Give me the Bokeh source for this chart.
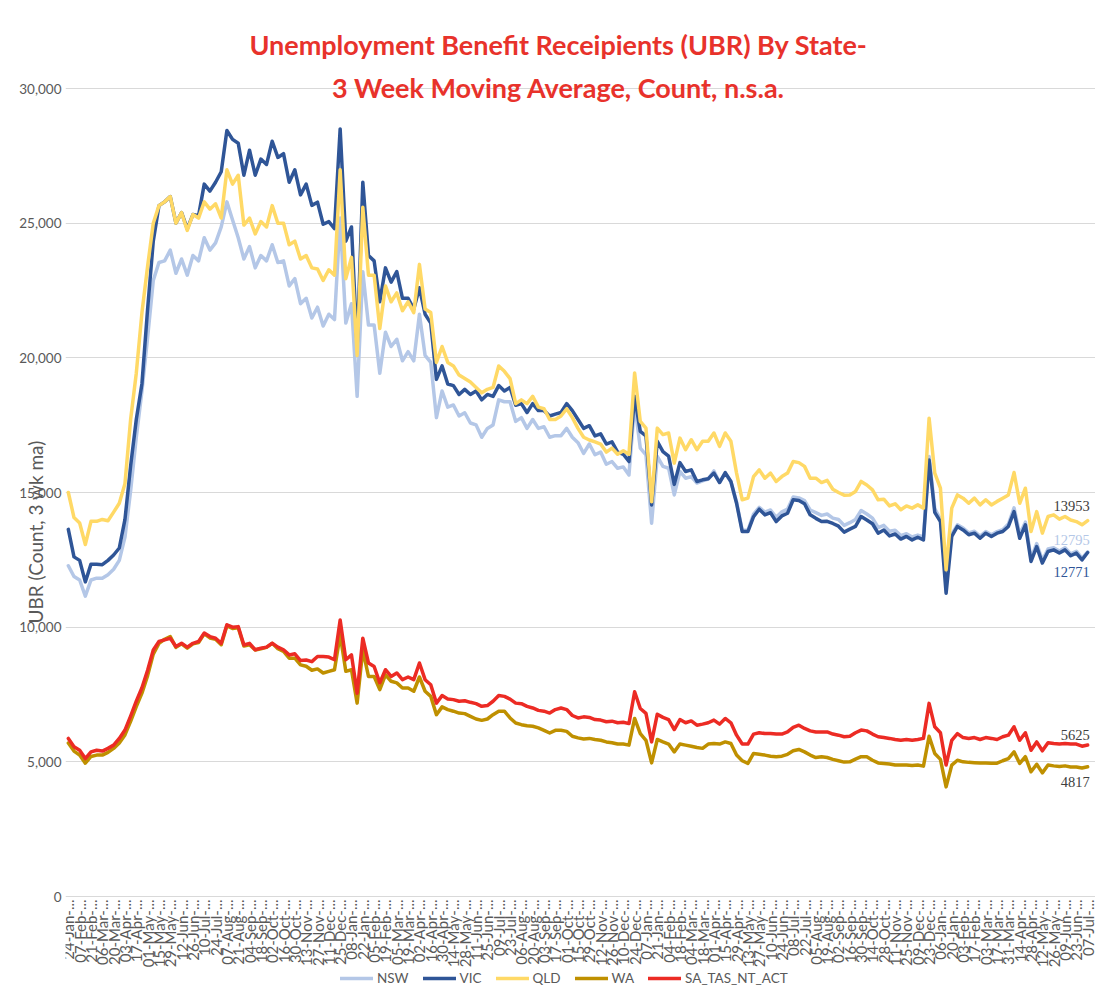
from math import pi

import pandas as pd
from bokeh.plotting import figure
from bokeh.core.properties import value
from bokeh.models import (Range1d, FixedTicker, NumeralTickFormatter, Label, LabelSet,
                          ColumnDataSource, Legend, LegendItem, Title)
from bokeh.embed import file_html
from bokeh.resources import INLINE

# Weekly observations, 24-Jan-2020 to 07-Jul-2023
weeks = pd.date_range("2020-01-24", "2023-07-07", freq="7D")
tick_labels = [f"{d:%d-%b}-..." for d in weeks[::2]]

title_lines = ["Unemployment Benefit Receipients (UBR) By State-",
               "3 Week Moving Average, Count, n.s.a."]
y_title = "UBR (Count, 3 wk ma)"
y_ticks = [0, 5000, 10000, 15000, 20000, 25000, 30000]

series_names = ["NSW", "VIC", "QLD", "WA", "SA_TAS_NT_ACT"]
series_colors = ["#b4c7e7", "#2f5597", "#ffd966", "#bf9000", "#ec2b24"]

nsw = [
    12280, 11880, 11750, 11150, 11750, 11820, 11820, 11950, 12150, 12480,
    13340, 15060, 17050, 18770, 20750, 22870,
    23540, 23600, 24000, 23140, 23670, 23070, 23800, 23600, 24460, 24000,
    24270, 24860, 25790, 25120, 24460, 23670, 24130, 23340, 23800, 23600,
    24200, 23540, 23600, 22670, 22940, 22010, 22210, 21480, 21880, 21180,
    21620, 21420, 25190, 21290, 22010, 18570, 23200, 21220, 21220, 19430,
    20950, 20420, 20690, 19890, 20230, 19890, 21620, 20090, 19830, 17780,
    18770, 18170, 18250, 17840, 17960, 17580, 17510, 17050, 17380, 17510,
    18440, 18370, 18370, 17640, 17780, 17380, 17710, 17380, 17440, 17050,
    17110, 17110, 17380, 17050, 16850, 16450,
    16800, 16400, 16500, 16050, 16150, 15900, 15950, 15650, 18300, 16650,
    16400, 13860, 16340, 15970, 15900, 14910, 15780, 15530, 15590, 15350,
    15430, 15500, 15800, 15380, 15700, 15400, 14650, 13600, 13600, 14200,
    14450, 14270, 14350, 14080, 14280, 14380, 14830, 14800, 14700, 14350,
    14250, 14150, 14200, 14050, 14000, 13780,
    13880, 14000, 14330, 14200, 14050, 13700, 13780, 13560, 13600, 13400,
    13470, 13350, 13420, 13350, 16340, 14400, 14000, 12000, 13450, 13800,
    13680, 13500, 13560, 13380, 13550, 13430, 13550, 13620, 13830, 14430,
    13450, 13900, 12550, 13100, 12480, 12900, 12950, 12830, 12950, 12720,
    12820, 12560, 12795,
]

vic = [
    13630, 12610, 12480, 11680, 12340, 12340, 12320, 12480, 12680, 12940,
    14000, 15990, 17710, 19040, 21820, 24330,
    25650, 25790, 25990, 25000, 25390, 24790, 25320, 25280, 26450, 26190,
    26520, 26910, 28440, 28110, 27970, 26780, 27710, 26780, 27380, 27180,
    28040, 27440, 27580, 26520, 26980, 26050, 26450, 25660, 25780, 24960,
    25060, 24800, 28500, 24330, 24860, 20400, 26520, 23800, 23600, 22080,
    23340, 22810, 23200, 22210, 22210, 21810, 22600, 21620, 21290, 19200,
    19700, 19030, 18970, 18640, 18830, 18640, 18770, 18440, 18640, 18570,
    18970, 18770, 18900, 18240, 18300, 17970, 18300, 18040, 18040, 17840,
    17910, 17970, 18300, 18040, 17710, 17380,
    17480, 17100, 17180, 16800, 16880, 16500, 16420, 16150, 18570, 17270,
    17100, 14540, 16900, 16520, 16350, 15300, 16110, 15780, 15840, 15410,
    15470, 15510, 15720, 15370, 15740, 15410, 14600, 13550, 13550, 14100,
    14380, 14170, 14250, 13920, 14130, 14230, 14730, 14700, 14580, 14170,
    14040, 13920, 13930, 13850, 13750, 13530,
    13640, 13740, 14110, 13980, 13840, 13490, 13610, 13390, 13460, 13270,
    13370, 13240, 13340, 13240, 16210, 14260, 13920, 11260, 13370, 13740,
    13610, 13430, 13490, 13300, 13490, 13370, 13490, 13550, 13740, 14290,
    13300, 13800, 12440, 12990, 12380, 12810, 12870, 12750, 12870, 12650,
    12750, 12500, 12771,
]

qld = [
    15000, 14070, 13870, 13070, 13930, 13930, 14000, 13950, 14270, 14600,
    15330, 17710, 19430, 21680, 23400, 25000,
    25650, 25790, 25990, 25000, 25390, 24730, 25320, 25190, 25790, 25520,
    25720, 25190, 26980, 26450, 26780, 24930, 25190, 24600, 25060, 24860,
    25650, 25000, 25000, 24200, 24330, 23670, 23800, 23340, 23300, 22870,
    23270, 23070, 26980, 22940, 23730, 20090, 25590, 23070, 23070, 21090,
    22670, 22080, 22410, 21750, 22080, 21680, 23470, 21810, 21680, 19830,
    20420, 19830, 19700, 19360, 19230, 19100, 18900, 18700, 18830, 18900,
    19700, 19500, 19230, 18300, 18440, 18300, 18570, 18170, 18110, 17710,
    17710, 17840, 18110, 17780, 17380, 17050,
    16950, 16880, 16800, 16500, 16650, 16420, 16550, 16420, 19440, 17640,
    17390, 14660, 17390, 17150, 17210, 16090, 17020, 16590, 16960, 16590,
    16900, 16900, 17210, 16710, 17210, 16900, 15720, 14730, 14790, 15590,
    15840, 15530, 15720, 15410, 15590, 15720, 16150, 16110, 15970, 15530,
    15530, 15370, 15450, 15120, 15000, 14900,
    14910, 15040, 15410, 15280, 15100, 14730, 14750, 14500, 14580, 14360,
    14500, 14420, 14540, 14420, 17760, 15720, 15160, 12130, 14420, 14910,
    14790, 14600, 14790, 14540, 14730, 14540, 14670, 14790, 14910, 15740,
    14600, 15160, 13550, 14290, 13490, 14110, 14170, 14010, 14110, 13980,
    13920, 13800, 13953,
]

wa = [
    5700, 5400, 5250, 4950, 5200, 5250, 5250, 5350, 5500, 5700,
    6000, 6500, 7050, 7550, 8200, 9000,
    9400, 9550, 9650, 9250, 9380, 9220, 9380, 9430, 9750, 9600,
    9550, 9350, 10050, 9950, 9980, 9300, 9350, 9150, 9200, 9250,
    9400, 9200, 9100, 8850, 8850, 8600, 8550, 8400, 8450, 8300,
    8360, 8420, 9720, 8360, 8420, 7180, 9160, 8170, 8170, 7680,
    8230, 7990, 7930, 7740, 7740, 7620, 8150, 7620, 7430, 6750,
    7040, 6940, 6880, 6810, 6790, 6690, 6590, 6540, 6590, 6750,
    6880, 6880, 6630, 6440, 6380, 6340, 6320, 6260, 6170, 6070,
    6170, 6170, 6130, 5950, 5890, 5850,
    5870, 5830, 5800, 5740, 5710, 5660, 5660, 5620, 6610, 6050,
    5800, 4960, 5830, 5740, 5660, 5370, 5660, 5620, 5580, 5530,
    5500, 5660, 5680, 5660, 5740, 5680, 5250, 5040, 4940, 5310,
    5280, 5250, 5210, 5190, 5210, 5280, 5410, 5460, 5370, 5250,
    5160, 5190, 5160, 5090, 5040, 4990,
    5000, 5100, 5190, 5190, 5060, 4960, 4940, 4920, 4880, 4880,
    4880, 4860, 4880, 4840, 5950, 5310, 5090, 4070, 4880, 5060,
    5000, 4980, 4970, 4960, 4960, 4950, 4950, 5040, 5120, 5370,
    4940, 5190, 4630, 4910, 4590, 4880, 4850, 4830, 4850, 4810,
    4810, 4770, 4817,
]

sa_tas_nt_act = [
    5870, 5560, 5430, 5120, 5370, 5430, 5400, 5500, 5620, 5870,
    6180, 6700, 7250, 7750, 8400, 9150,
    9470, 9530, 9590, 9280, 9400, 9260, 9400, 9470, 9780, 9650,
    9590, 9400, 10090, 10000, 10020, 9340, 9400, 9160, 9220, 9260,
    9400, 9260, 9160, 8970, 9010, 8760, 8780, 8720, 8910, 8910,
    8890, 8790, 10270, 8790, 8970, 7550, 9590, 8670, 8540, 7930,
    8420, 8170, 8300, 8050, 8150, 8050, 8670, 8050, 7860, 7180,
    7460, 7330, 7310, 7250, 7270, 7210, 7160, 7060, 7090, 7250,
    7460, 7430, 7330, 7180, 7160, 7060, 7000, 6910, 6880, 6810,
    6940, 7000, 6940, 6720, 6630, 6670,
    6650, 6570, 6550, 6490, 6510, 6450, 6470, 6420, 7600, 6980,
    6800, 5740, 6770, 6650, 6570, 6200, 6570, 6450, 6520, 6360,
    6400, 6450, 6550, 6400, 6610, 6450, 5990, 5660, 5660, 6030,
    6080, 6050, 6050, 6030, 6030, 6110, 6280, 6360, 6240, 6150,
    6110, 6110, 6110, 6030, 5990, 5930,
    5950, 6080, 6180, 6150, 6030, 5930, 5900, 5870, 5830, 5800,
    5830, 5800, 5830, 5870, 7170, 6300, 6080, 4880, 5800, 6050,
    5900, 5870, 5900, 5830, 5900, 5870, 5830, 5930, 5990, 6300,
    5800, 6080, 5430, 5740, 5410, 5710, 5680, 5660, 5680, 5660,
    5660, 5580, 5625,
]

series_values = [nsw, vic, qld, wa, sa_tas_nt_act]

FONT = "Lato"
GREY = "#595959"

n = len(weeks)
x = list(range(n))

# The frame runs from the top of the page to its bottom and to its right
# edge: the title, the rotated week labels and the legend all sit inside it.
FRAME_W, FRAME_H = 1030, 984
PX_PER_WEEK = 1025 / n             # each weekly category is this wide
PX_PER_UNIT = 808 / 30000          # 30,000 sits 808 px above the zero line
BELOW_ZERO_PX = 93                 # room under the zero line for labels + legend
x_end = -0.5 + FRAME_W / PX_PER_WEEK
y_start = -BELOW_ZERO_PX / PX_PER_UNIT
y_end = (FRAME_H - BELOW_ZERO_PX) / PX_PER_UNIT

p = figure(width=1095, height=989, frame_width=FRAME_W, frame_height=FRAME_H,
           output_backend="svg", toolbar_location=None,
           x_range=Range1d(-0.5, x_end), y_range=Range1d(y_start, y_end),
           min_border_left=65, min_border_right=0, min_border_top=5,
           min_border_bottom=0)
p.outline_line_color = None
p.background_fill_color = "white"
p.border_fill_color = "white"

p.xgrid.visible = False
p.ygrid.grid_line_color = "#d9d9d9"
p.ygrid.grid_line_width = 1

yax = p.yaxis[0]
yax.ticker = FixedTicker(ticks=y_ticks)
yax.formatter = NumeralTickFormatter(format="0,0")
yax.axis_line_color = None
yax.major_tick_line_color = None
yax.minor_tick_line_color = None
yax.major_tick_out = 0
yax.major_tick_in = 0
yax.major_label_standoff = 4
yax.major_label_text_font = FONT
yax.major_label_text_font_size = "13.5px"
yax.major_label_text_color = GREY

p.xaxis.visible = False

# week labels under the zero line, every second week, reading upwards
tick_src = ColumnDataSource(dict(
    x=list(range(0, n, 2)),
    y=[-3 / PX_PER_UNIT] * len(tick_labels),
    text=tick_labels,
))
p.text(x="x", y="y", text="text", source=tick_src, angle=pi / 2,
       text_align="right", text_baseline="middle", text_font=value(FONT),
       text_font_size="15px", text_color=GREY)

# vertical axis title, shifted down along the axis and over the tick labels
p.add_layout(Title(text=y_title, align="left", offset=273 + BELOW_ZERO_PX,
                   vertical_align="bottom", standoff=-60, text_font=FONT,
                   text_font_size="19px", text_font_style="normal",
                   text_color=GREY), "left")

items = []
for name, color, vals in zip(series_names, series_colors, series_values):
    r = p.line(x, vals, line_color=color, line_width=3.5, line_join="round",
               line_cap="round")
    items.append(LegendItem(label=name, renderers=[r]))

legend = Legend(items=items, orientation="horizontal", location=(275, 3),
                margin=0, padding=0, spacing=14, glyph_width=33, glyph_height=14,
                label_height=14, label_standoff=4, label_text_font=FONT,
                label_text_font_size="13.5px", label_text_color=GREY,
                border_line_color=None, background_fill_alpha=0)
p.add_layout(legend)

# end-of-series values
end_vals = [qld[-1], nsw[-1], vic[-1], sa_tas_nt_act[-1], wa[-1]]
end_src = ColumnDataSource(dict(
    x=[n - 1] * 5,
    y=end_vals,
    text=[str(v) for v in end_vals],
    color=["#404040", "#b4c7e7", "#2f5597", "#404040", "#404040"],
    dy=[15, 12, -19, 10, -15],
))
p.add_layout(LabelSet(x="x", y="y", text="text", source=end_src,
                      x_offset=2, y_offset="dy", text_color="color",
                      text_font=FONT, text_font_size="14.5px",
                      text_align="right", text_baseline="middle"))

# chart title, two lines, overlapping the top of the plot area
for txt, ypos in zip(title_lines, [852, 809]):
    p.add_layout(Label(x=493, y=ypos + BELOW_ZERO_PX, x_units="screen",
                       y_units="screen", text=txt, text_align="center",
                       text_baseline="middle", text_font=FONT,
                       text_font_style="bold", text_font_size="27px",
                       text_color="#e8322b"))

open("out.html", "w").write(file_html(p, INLINE))
